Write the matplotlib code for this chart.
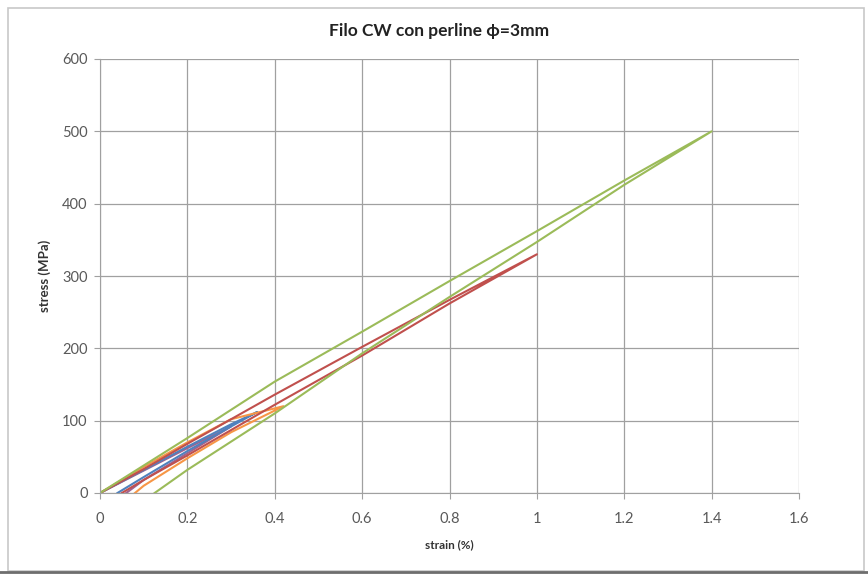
import matplotlib.pyplot as plt
from matplotlib.patches import Rectangle

plt.rcParams['font.family'] = ['Lato', 'DejaVu Sans']

# cicli di carico / scarico (strain %, stress MPa)
green_strain = [0, 0.1, 0.2, 0.4, 0.6, 0.8, 1.0, 1.2, 1.4,
                1.2, 1.0, 0.8, 0.6, 0.4, 0.2, 0.125]
green_stress = [0, 38, 76, 154, 223, 293, 362, 432, 500,
                426, 347, 271, 193, 110, 32, 0]

red_strain = [0, 0.1, 0.2, 0.4, 0.6, 0.8, 1.0,
              0.8, 0.6, 0.4, 0.2, 0.1, 0.05]
red_stress = [0, 33, 68, 136, 202, 267, 330,
              262, 190, 122, 52, 18, 0]

orange_strain = [0, 0.1, 0.2, 0.3, 0.42, 0.3, 0.2, 0.1, 0.08]
orange_stress = [0, 36, 70, 102, 120, 84, 48, 10, 0]

blue_strain = [0, 0.1, 0.2, 0.3, 0.36, 0.3, 0.2, 0.1, 0.04]
blue_stress = [0, 32, 64, 95, 112, 92, 58, 22, 0]

purple_strain = [0, 0.1, 0.2, 0.3, 0.2, 0.1, 0.06]
purple_stress = [0, 31, 62, 92, 55, 18, 0]

xticks = [0, 0.2, 0.4, 0.6, 0.8, 1, 1.2, 1.4, 1.6]
xticklabels = ['0', '0.2', '0.4', '0.6', '0.8', '1', '1.2', '1.4', '1.6']
yticks = [0, 100, 200, 300, 400, 500, 600]

fig = plt.figure(figsize=(8.68, 5.76), dpi=100)
ax = fig.add_axes([100 / 868, 83 / 576, 699 / 868, 434 / 576])

# cornice del grafico
fig.patches.append(Rectangle((8 / 868, 5 / 576), 856 / 868, 563 / 576,
                             transform=fig.transFigure, fill=False,
                             edgecolor='#c8c8c8', lw=1.2))
fig.add_artist(plt.Line2D([0, 1], [4 / 576, 4 / 576], color='#6e6e6e', lw=2,
                          transform=fig.transFigure))

ax.plot(purple_strain, purple_stress, color='#a0628f', lw=1.5)
ax.plot(blue_strain, blue_stress, color='#4f81bd', lw=1.5)
ax.plot(orange_strain, orange_stress, color='#f79646', lw=1.5)
ax.plot(red_strain, red_stress, color='#c0504d', lw=1.5)
ax.plot(green_strain, green_stress, color='#9bbb59', lw=1.5)

ax.set_xlim(0, 1.6)
ax.set_ylim(0, 600)
ax.set_xticks(xticks)
ax.set_xticklabels(xticklabels)
ax.set_yticks(yticks)
ax.grid(True, color='#a0a0a0', lw=0.9)
ax.set_axisbelow(True)
for s in ax.spines.values():
    s.set_visible(False)
ax.spines['left'].set_visible(True)
ax.spines['bottom'].set_visible(True)
ax.spines['left'].set_color('#a0a0a0')
ax.spines['bottom'].set_color('#a0a0a0')
ax.tick_params(axis='both', direction='out', length=4, color='#a0a0a0',
               labelsize=10.5, labelcolor='#595959')
ax.tick_params(axis='x', pad=10)
ax.tick_params(axis='y', pad=5)

ax.set_xlabel('strain (%)', fontsize=8.5, fontweight='bold', color='#333333', labelpad=9)
ax.set_ylabel('stress (MPa)', fontsize=9.5, fontweight='bold', color='#333333', labelpad=8)
fig.text(0.506, 0.947, 'Filo CW con perline \u03d5=3mm', ha='center', va='center',
         fontsize=12.5, fontweight='bold', color='#222222')

fig.savefig('out.png', dpi=100)
